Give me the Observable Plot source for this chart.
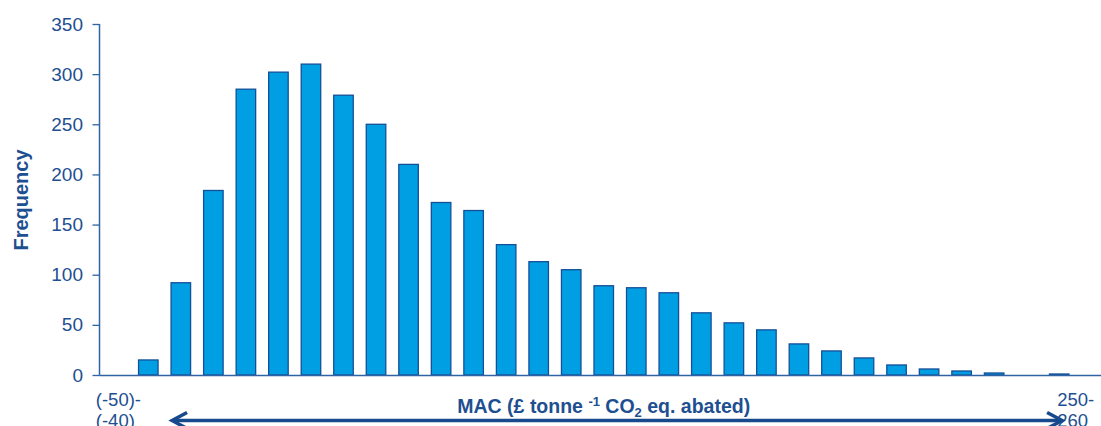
<!DOCTYPE html>
<html><head><meta charset="utf-8">
<script src="https://cdn.jsdelivr.net/npm/d3@7"></script>
<script src="https://cdn.jsdelivr.net/npm/@observablehq/plot@0.6"></script>
<style>
html,body{margin:0;padding:0;background:#fff;overflow:hidden;}
#chart{width:1101px;height:426px;overflow:hidden;}
#chart svg{max-width:none !important;height:426px !important;width:1108px !important;}
</style></head><body><div id="chart"></div>
<script>
// Bin lower bounds (£ per tonne CO2 eq.), bins are 10 wide
const binStarts = [-50,-40,-30,-20,-10,0,10,20,30,40,50,60,70,80,90,100,110,120,130,140,150,160,170,180,190,200,210,220,230,240,250];
// Frequency per bin
const frequency = [0,15,92,184,285,302,310,279,250,210,172,164,130,113,105,89,87,82,62,52,45,31,24,17,10,6,4,2,0,1,0];
const yTicks = [0,50,100,150,200,250,300,350];
const yLabel = "Frequency";
const xTitle = ["MAC (£ tonne ", "-1", " CO", "2", " eq. abated)"];

const TEXT = "#1d4f91";
const AXIS = "#2f63a4";
const FILL = "#009fe3";
const STROKE = "#144f98";
const FONT = "'Liberation Sans', Arial, sans-serif";

const fmt = v => v < 0 ? `(${v})` : `${v}`;
const categories = binStarts.map(v => `${fmt(v)}-${fmt(v + 10)}`);
const data = categories.map((c, i) => ({bin: c, freq: frequency[i]}));
const first = binStarts[0], last = binStarts[binStarts.length - 1];
const firstLabel = [{bin: categories[0], label: `${fmt(first)}-\n${fmt(first + 10)}`}];
const lastLabel = [{bin: categories[categories.length - 1], label: `${fmt(last)}-\n${fmt(last + 10)}`}];

const chart = Plot.plot({
  width: 1108, height: 426,
  marginLeft: 99.5, marginRight: 0, marginTop: 24, marginBottom: 51,
  style: {fontFamily: FONT, fontSize: "19px", color: TEXT, background: "white", overflow: "visible", maxWidth: "none"},
  x: {domain: categories, paddingInner: 0.4, paddingOuter: 0.2, align: 0.5, round: false, axis: null},
  y: {domain: [0, 350], axis: null},
  marks: [
    Plot.barY(data, {x: "bin", y: "freq", fill: FILL, stroke: STROKE, strokeWidth: 1.3}),
    Plot.ruleY([0], {stroke: AXIS, strokeWidth: 1.5}),
    Plot.axisY({ticks: yTicks, tickSize: 7, tickPadding: 10, stroke: AXIS, strokeWidth: 1.3, fill: TEXT, fontSize: 19, label: null}),
    Plot.text([yLabel], {frameAnchor: "left", rotate: -90, dx: -78, fontWeight: "bold", fontSize: 20, fill: TEXT, textAnchor: "middle", lineAnchor: "middle"}),
    Plot.text(firstLabel, {x: "bin", text: "label", frameAnchor: "bottom", textAnchor: "start", lineAnchor: "top", dx: -20.5, dy: 16, lineHeight: 1.12, fill: TEXT, fontSize: 18.5}),
    Plot.text(lastLabel, {x: "bin", text: "label", frameAnchor: "bottom", textAnchor: "start", lineAnchor: "top", dx: -35, dy: 16, lineHeight: 1.12, fill: TEXT, fontSize: 18.5})
  ]
});
document.getElementById("chart").appendChild(chart);

// Decorations derived from the Plot scales
const svg = d3.select(chart.tagName.toLowerCase() === "svg" ? chart : chart.querySelector("svg"));
const xs = chart.scale("x"), ys = chart.scale("y");
const x0 = xs.range[0];
const yBase = ys.apply(0), yTop = ys.apply(350);
svg.append("line")
  .attr("x1", x0).attr("x2", x0)
  .attr("y1", yTop).attr("y2", yBase + 0.5)
  .attr("stroke", AXIS).attr("stroke-width", 1.5);

// x title with superscript / subscript
const midX = (xs.range[0] + xs.range[1]) / 2;
const t = svg.append("text")
  .attr("x", midX).attr("y", yBase + 37.5)
  .attr("text-anchor", "middle")
  .attr("fill", TEXT).attr("font-weight", "bold").attr("font-size", 19.5)
  .attr("font-family", FONT);
t.append("tspan").text(xTitle[0]);
t.append("tspan").attr("font-size", 13).attr("dy", -7).text(xTitle[1]);
t.append("tspan").attr("dy", 7).text(xTitle[2]);
t.append("tspan").attr("font-size", 13).attr("dy", 4).text(xTitle[3]);
t.append("tspan").attr("dy", -4).text(xTitle[4]);

// double-headed arrow under the axis
const yA = yBase + 45.5;
const xL = xs.apply(categories[2]);
const xR = xs.apply(categories[29]) + xs.bandwidth * 0.7;
const g = svg.append("g").attr("stroke", "#17498d").attr("stroke-width", 3.5).attr("fill", "none");
g.append("line").attr("x1", xL + 2).attr("x2", xR - 2).attr("y1", yA).attr("y2", yA);
g.append("path").attr("d", `M${xL + 16},${yA - 8}L${xL + 1},${yA}L${xL + 16},${yA + 8}`);
g.append("path").attr("d", `M${xR - 16},${yA - 8}L${xR - 1},${yA}L${xR - 16},${yA + 8}`);
</script>
</body></html>
